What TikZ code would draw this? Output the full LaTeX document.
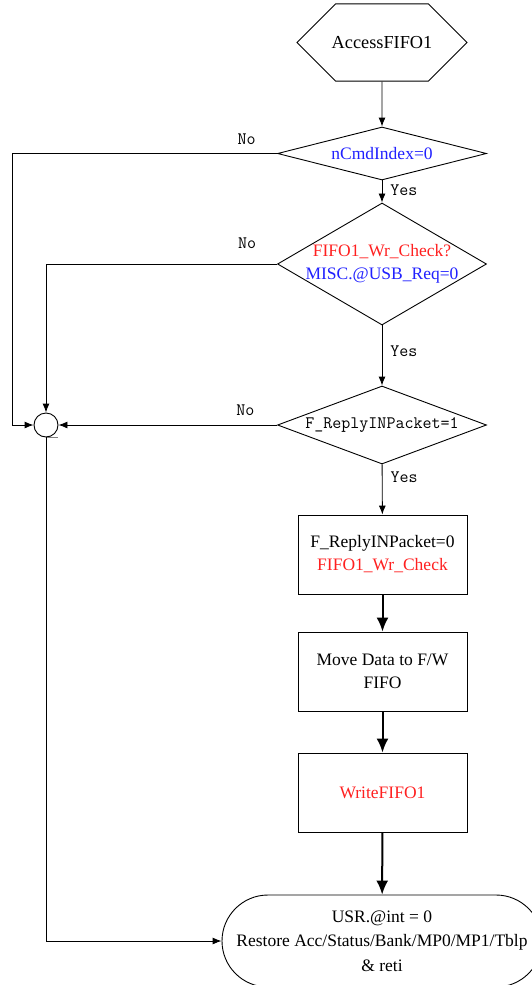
\documentclass[tikz,border=0pt]{standalone}
\usepackage{fontspec}
\setmainfont{Liberation Serif}
\usetikzlibrary{shapes.geometric,shapes.misc,arrows.meta}
\definecolor{cred}{RGB}{255,32,32}
\definecolor{cblue}{RGB}{32,32,255}
\tikzset{
  txt/.style={font=\fontsize{17.5}{23}\selectfont, align=center},
  mono/.style={font=\fontsize{17.5}{20}\ttfamily},
  dia/.style={draw, shape=diamond, inner sep=0pt, minimum width=209pt, line width=0.9pt},
  box/.style={draw, rectangle, minimum width=169pt, minimum height=79pt, line width=0.9pt, txt},
  arr/.style={line width=0.9pt, -{Latex[length=9pt,width=7pt]}},
  tarr/.style={line width=2pt, -{Latex[length=14pt,width=12pt]}},
}
\begin{document}
\begin{tikzpicture}[x=1pt,y=-1pt]
\useasboundingbox (0,0) rectangle (532,985);
\clip (0,0) rectangle (532,985);
\node[draw, chamfered rectangle, chamfered rectangle xsep=28pt, chamfered rectangle ysep=32.5pt, minimum width=170pt, minimum height=65pt, inner sep=0pt, line width=0.9pt, txt, font=\fontsize{18.3}{23}\selectfont] (start) at (382,42.5) {AccessFIFO1};
\node[dia, minimum height=53pt] (d1) at (382,153.5) {};
\node[txt, text=cblue] (d1t) at (d1.center) {nCmdIndex=0};
\node[dia, minimum height=122pt] (d2) at (382,264) {};
\node[txt] (d2t) at (d2.center) {\color{cred}FIFO1\_Wr\_Check?\\\color{cblue}MISC.@USB\_Req=0};
\node[dia, minimum height=78pt] (d3) at (382,425) {};
\node[mono] (d3t) at (d3.center) {F\_ReplyINPacket=1};
\node[draw, circle, minimum size=24pt, inner sep=0pt, line width=0.9pt] (j) at (46,425) {};
\node[box] (b1) at (382.5,554.5) {F\_ReplyINPacket=0\\\color{cred}FIFO1\_Wr\_Check};
\node[box] (b2) at (382.5,671.5) {Move Data to F/W\\FIFO};
\node[box] (b3) at (382.5,792.5) {\color{cred}WriteFIFO1};
\node[draw, rounded rectangle, minimum width=320pt, minimum height=92pt, inner sep=0pt, line width=0.9pt, txt, font=\fontsize{17.5}{24.5}\selectfont] (term) at (382,941) {USR.@int = 0\\Restore Acc/Status/Bank/MP0/MP1/Tblp\\\& reti};
\coordinate (c1) at (12,153.5);
\draw[arr] (start) -- (d1);
\draw[arr] (d1) -- node[mono, right, pos=0.45, inner sep=8pt] {Yes} (d2);
\draw[arr] (d2) -- node[mono, right, pos=0.43, inner sep=8pt] {Yes} (d3);
\draw[arr] (d3) -- node[mono, right, pos=0.25, inner sep=8pt] {Yes} (b1);
\draw[arr] (d1.west) -- node[mono, pos=0.115, yshift=14pt] {No} (c1) |- (j.west);
\draw[arr] (d2.west) -- node[mono, pos=0.13, yshift=21pt] {No} (d2.west -| j) -- (j.north);
\draw[arr] (d3.west) -- node[mono, pos=0.145, yshift=15pt] {No} (j.east);
\draw[gray, line width=0.9pt] (j.south) -- ++(12,0);
\draw[arr] (j.south) |- (term.west);
\draw[tarr] (b1) -- (b2);
\draw[tarr] (b2) -- (b3);
\draw[tarr] (b3) -- (term);
\end{tikzpicture}
\end{document}
